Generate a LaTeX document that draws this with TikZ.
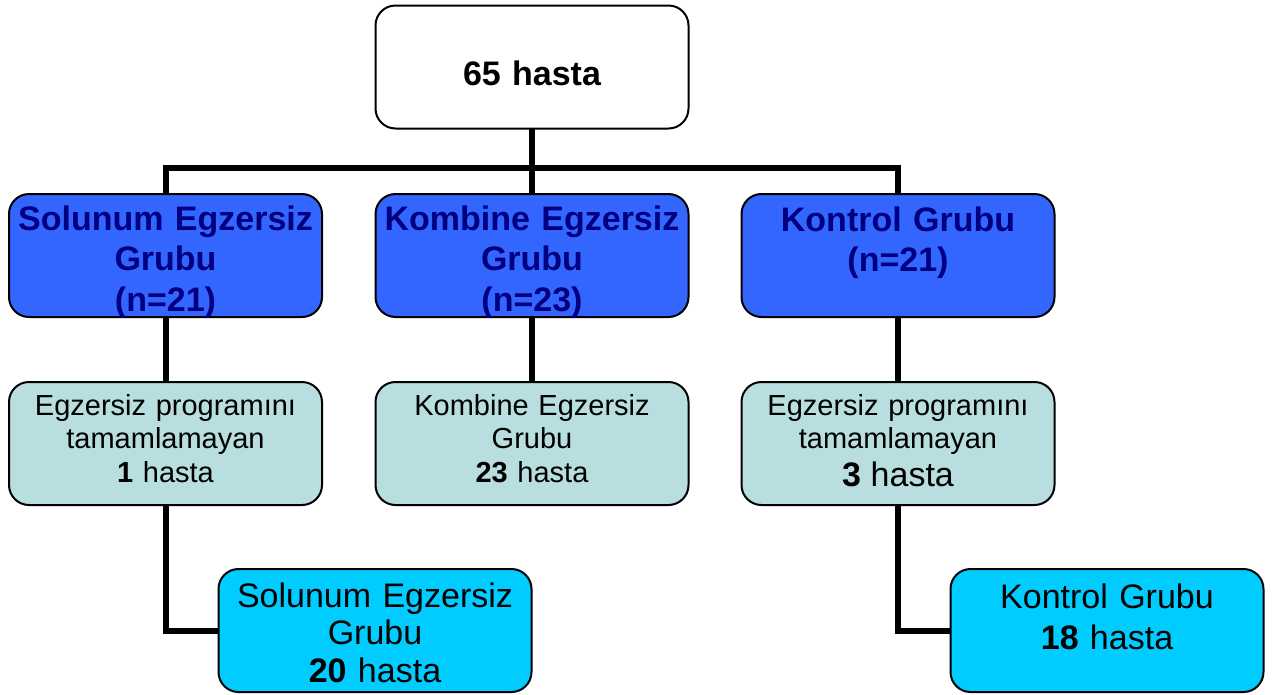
\documentclass[tikz,border=0pt]{standalone}
\usepackage{fontspec}
\setmainfont{Liberation Sans}
\usetikzlibrary{backgrounds}
\definecolor{boxblue}{RGB}{51,102,255}
\definecolor{boxlight}{RGB}{184,222,224}
\definecolor{boxcyan}{RGB}{0,204,255}
\definecolor{navytext}{RGB}{0,0,128}
\tikzset{
  box/.style={draw=black, line width=2pt, rounded corners=20pt, minimum width=313pt, minimum height=123pt, inner sep=0pt, outer sep=0pt},
  topbox/.style={box, fill=white},
  bluebox/.style={box, fill=boxblue},
  lightbox/.style={box, fill=boxlight},
  cyanbox/.style={box, fill=boxcyan},
  txt/.style={anchor=base, inner sep=0pt, text width=320pt, align=center},
  toptxt/.style={txt, text=black, font=\fontsize{34}{40}\selectfont\bfseries},
  bluetxt/.style={txt, text=navytext, font=\fontsize{34}{40.5}\selectfont\bfseries},
  lighttxt/.style={txt, text=black, font=\fontsize{29}{33.5}\selectfont},
  cyantxt/.style={txt, text=black, font=\fontsize{34}{37.5}\selectfont},
  conn/.style={draw=black, line width=6pt}
}
\begin{document}
\begin{tikzpicture}[x=1pt, y=-1pt]
\useasboundingbox (0,0) rectangle (1277,694);
% boxes
\node[topbox] (top) at (532,67) {};
\node[bluebox] (b1) at (165.5,255.5) {};
\node[bluebox] (b2) at (532,255.5) {};
\node[bluebox] (b3) at (898,255.5) {};
\node[lightbox] (l1) at (165.5,443.5) {};
\node[lightbox] (l2) at (532,443.5) {};
\node[lightbox] (l3) at (898,443.5) {};
\node[cyanbox] (c1) at (375,630.5) {};
\node[cyanbox] (c3) at (1107,630.5) {};
% connectors behind the boxes
\coordinate (bus) at (532,168);
\begin{pgfonlayer}{background}
\draw[conn] (top.south) -- (b2.north);
\draw[conn] (b1.north) |- (bus) -| (b3.north);
\draw[conn] (b1.south) -- (l1.north);
\draw[conn] (b2.south) -- (l2.north);
\draw[conn] (b3.south) -- (l3.north);
\draw[conn] (l1.south) |- (c1.west);
\draw[conn] (l3.south) |- (c3.west);
\end{pgfonlayer}
% texts
\node[toptxt] (ttop) at (532,85) {65 hasta};
\node[bluetxt] (tb1) at (165.5,230) {Solunum Egzersiz\\Grubu\\(n=21)};
\node[bluetxt] (tb2) at (532,230) {Kombine Egzersiz\\Grubu\\(n=23)};
\node[bluetxt] (tb3) at (898,231) {Kontrol Grubu\\(n=21)};
\node[lighttxt] (tl1) at (165.5,415) {Egzersiz programını\\tamamlamayan\\\textbf{1} hasta};
\node[lighttxt] (tl2) at (532,415) {Kombine Egzersiz\\Grubu\\\textbf{23} hasta};
\node[lighttxt] (tl3) at (898,415) {Egzersiz programını\\tamamlamayan\\[4.5pt]{\fontsize{34}{38}\selectfont\textbf{3} hasta}};
\node[cyantxt] (tc1) at (375,607) {Solunum Egzersiz\\Grubu\\\textbf{20} hasta};
\node[cyantxt, font=\fontsize{34}{41}\selectfont] (tc3) at (1107,608) {Kontrol Grubu\\\textbf{18} hasta};
\end{tikzpicture}
\end{document}
